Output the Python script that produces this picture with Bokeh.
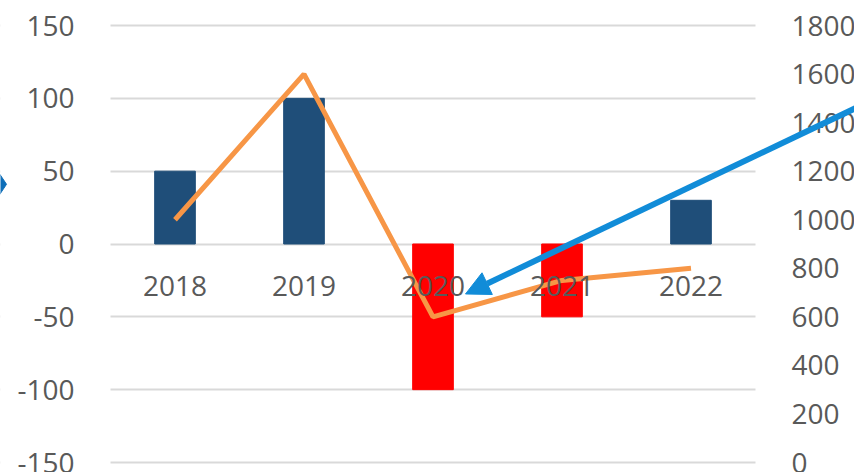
from bokeh.plotting import figure
from bokeh.models import (Range1d, LinearAxis, FixedTicker, Arrow, NormalHead,
                          ColumnDataSource, BoxAnnotation, PrintfTickFormatter)
from bokeh.core.properties import value
from bokeh.embed import file_html
from bokeh.resources import INLINE

years = ["2018", "2019", "2020", "2021", "2022"]
bar_values = [50, 100, -100, -50, 30]
line_values = [1000, 1600, 600, 750, 800]
left_ticks = [-150, -100, -50, 0, 50, 100, 150]
right_ticks = [0, 200, 400, 600, 800, 1000, 1200, 1400, 1600, 1800]

BLUE = "#1F4E79"
RED = "#FF0000"
ORANGE = "#F79646"
ARROW = "#118CD8"
MARK = "#0E6EB8"
TXT = "#595959"
GRID = "#D9D9D9"
FONT = "Open Sans"
FS = "28px"

# layout in pixels
W, H = 854, 472
LEFT_PX, CAT_PX = 110, 129          # plot area starts at 110px, one category = 129px
TOP_PX, BOTTOM_PX = 25, 462         # plot area top / bottom
PLOT_RIGHT = LEFT_PX + CAT_PX * len(years)

n = len(years)
xs = [i + 0.5 for i in range(n)]
bar_colors = [BLUE if v >= 0 else RED for v in bar_values]
src = ColumnDataSource(dict(x=xs, label=years, top=bar_values, color=bar_colors, line=line_values))

x_start = -LEFT_PX / CAT_PX
x_end = n + (W - PLOT_RIGHT) / CAT_PX

def padded(lo, hi):
    per_px = (hi - lo) / (BOTTOM_PX - TOP_PX)
    return Range1d(lo - (H - BOTTOM_PX) * per_px, hi + TOP_PX * per_px)

p = figure(width=W, height=H, x_range=Range1d(x_start, x_end), y_range=padded(-150, 150),
           output_backend="svg", toolbar_location=None, x_axis_location=None, y_axis_location=None,
           min_border_left=0, min_border_right=0, min_border_top=0, min_border_bottom=0)
p.outline_line_color = None
p.background_fill_color = "white"
p.border_fill_color = "white"
p.extra_y_ranges = {"right": padded(0, 1800)}

def style(ax):
    ax.axis_line_color = None
    ax.major_tick_line_color = None
    ax.minor_tick_line_color = None
    ax.major_label_text_font = FONT
    ax.major_label_text_font_size = FS
    ax.major_label_text_color = TXT
    ax.major_label_standoff = 30

la = LinearAxis(ticker=FixedTicker(ticks=left_ticks), formatter=PrintfTickFormatter(format="%d"),
                fixed_location=0)
style(la)
p.add_layout(la, "left")

ra = LinearAxis(y_range_name="right", ticker=FixedTicker(ticks=right_ticks),
                formatter=PrintfTickFormatter(format="%d"), fixed_location=n)
style(ra)
p.add_layout(ra, "right")

p.ygrid.grid_line_color = GRID
p.ygrid.grid_line_width = 2
p.ygrid.ticker = FixedTicker(ticks=left_ticks)
p.xgrid.visible = False

# keep gridlines inside the plot area only
p.add_layout(BoxAnnotation(right=0, fill_color="white", fill_alpha=1, line_color=None, level="underlay"))
p.add_layout(BoxAnnotation(left=n, fill_color="white", fill_alpha=1, line_color=None, level="underlay"))

p.vbar(x="x", top="top", bottom=0, width=0.315, color="color", source=src)
p.line(x="x", y="line", y_range_name="right", line_color=ORANGE, line_width=5, source=src)

# category labels next to the zero line
p.text(x="x", y=0, text="label", source=src, text_align="center", text_baseline="middle",
       y_offset=42, text_font=value(FONT), text_font_size=FS, text_color=TXT)

# callout arrow
p.add_layout(Arrow(end=NormalHead(size=24, fill_color=ARROW, line_color=ARROW),
                   x_start=6.12, y_start=107.8, x_end=2.752, y_end=-34.3,
                   line_color=ARROW, line_width=6))

# partly visible marker at the left edge
p.scatter(x=[x_start - 2 / CAT_PX], y=[41], marker="diamond", size=24,
          fill_color=MARK, line_color=MARK)

open("out.html", "w").write(file_html(p, INLINE))
